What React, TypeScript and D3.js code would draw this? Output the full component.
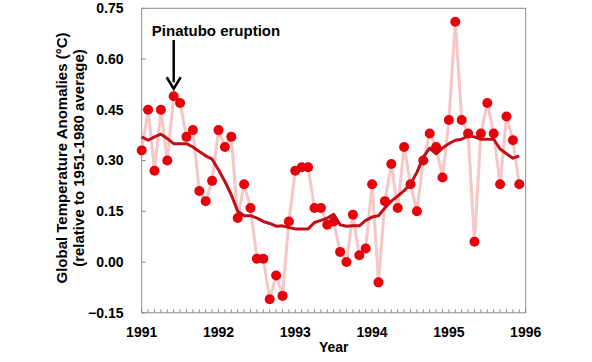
import React from "react";
import * as d3 from "d3";

const years = [1991, 1992, 1993, 1994, 1995, 1996];
const yTicks = [-0.15, 0, 0.15, 0.3, 0.45, 0.6, 0.75];

// Monthly anomalies Jan 1991 .. Dec 1995
const monthly = [
  0.33, 0.45, 0.27, 0.45, 0.30, 0.49, 0.47, 0.37, 0.39, 0.21, 0.18, 0.24,
  0.39, 0.34, 0.37, 0.13, 0.23, 0.16, 0.01, 0.01, -0.11, -0.04, -0.10, 0.12,
  0.27, 0.28, 0.28, 0.16, 0.16, 0.11, 0.12, 0.03, 0.00, 0.14, 0.02, 0.04,
  0.23, -0.06, 0.18, 0.29, 0.16, 0.34, 0.23, 0.15, 0.30, 0.38, 0.34, 0.25,
  0.42, 0.71, 0.42, 0.38, 0.06, 0.38, 0.47, 0.38, 0.23, 0.43, 0.36, 0.23,
];

// Smoothed (running mean) curve
const smooth = [
  0.37, 0.36, 0.37, 0.378, 0.365, 0.35, 0.35, 0.35, 0.34, 0.327, 0.314, 0.304,
  0.273, 0.238, 0.199, 0.15, 0.137, 0.137, 0.13, 0.12, 0.114, 0.106, 0.107, 0.102,
  0.098, 0.098, 0.098, 0.117, 0.123, 0.13, 0.141, 0.11, 0.106, 0.107, 0.107, 0.123,
  0.133, 0.137, 0.16, 0.18, 0.195, 0.211, 0.23, 0.265, 0.31, 0.337, 0.32, 0.337,
  0.35, 0.36, 0.363, 0.373, 0.37, 0.363, 0.363, 0.363, 0.334, 0.32, 0.307, 0.314,
];

const annotation = { label: "Pinatubo eruption", month: 5 };

const W = 592;
const H = 362;
const L = 141.7, R = 525.7, T = 8.3, B = 312.8;
const FONT = "'Liberation Sans', Arial, sans-serif";

export default function App() {
  const x = d3.scaleLinear().domain([1991, 1996]).range([L, R]);
  const y = d3.scaleLinear().domain([-0.15, 0.75]).range([B, T]);
  const tOf = (i: number) => 1991 + i / 12;

  const rawLine = d3
    .line<number>()
    .x((_, i) => x(tOf(i)))
    .y((d) => y(d));
  const smoothLine = d3
    .line<number>()
    .x((_, i) => x(tOf(i)))
    .y((d) => y(d));

  const months = d3.range(0, 61);
  const ax = x(tOf(annotation.month));
  const ay = y(monthly[annotation.month]);

  return (
    <svg
      width={W}
      height={H}
      style={{ position: "absolute", left: 0, top: 0, background: "#fff" }}
      fontFamily={FONT}
    >
      <rect x={0} y={0} width={W} height={H} fill="#fff" />
      {/* frame */}
      <rect x={L} y={T} width={R - L} height={B - T} fill="none" stroke="#8c8c8c" strokeWidth={1} />
      {/* monthly minor ticks */}
      {months.map((m) => (
        <line key={m} x1={x(tOf(m))} x2={x(tOf(m))} y1={B} y2={B - 3.5} stroke="#8c8c8c" strokeWidth={1} />
      ))}
      {/* y ticks */}
      {yTicks.map((v) => (
        <g key={v}>
          <line x1={L} x2={L + 4} y1={y(v)} y2={y(v)} stroke="#8c8c8c" strokeWidth={1} />
          <text
            x={123.5}
            y={y(v)}
            dy="0.35em"
            textAnchor="end"
            fontSize={14}
            fontWeight="bold"
            fill="#000"
          >
            {d3.format(".2f")(v)}
          </text>
        </g>
      ))}
      {/* x labels */}
      {years.map((yr) => (
        <text key={yr} x={x(yr)} y={337} textAnchor="middle" fontSize={14} fontWeight="bold" fill="#000">
          {yr}
        </text>
      ))}
      <text x={333.7} y={352} textAnchor="middle" fontSize={14} fontWeight="bold" fill="#000">
        Year
      </text>
      {/* y title */}
      <g transform={`translate(67,158) rotate(-90)`}>
        <text x={0} y={0} textAnchor="middle" fontSize={15} fontWeight="bold" fill="#000">
          Global Temperature Anomalies (°C)
        </text>
        <text x={0} y={17} textAnchor="middle" fontSize={15} fontWeight="bold" fill="#000">
          (relative to 1951-1980 average)
        </text>
      </g>
      {/* raw line */}
      <path d={rawLine(monthly) || ""} fill="none" stroke="#f7c6c6" strokeWidth={3} strokeLinejoin="round" />
      {/* points */}
      {monthly.map((v, i) => (
        <circle key={i} cx={x(tOf(i))} cy={y(v)} r={5} fill="#e8000b" />
      ))}
      {/* smoothed */}
      <path d={smoothLine(smooth) || ""} fill="none" stroke="#c00f16" strokeWidth={3} strokeLinejoin="round" />
      {/* annotation */}
      <text x={216} y={36} textAnchor="middle" fontSize={15} fontWeight="bold" fill="#000">
        {annotation.label}
      </text>
      <line x1={ax} x2={ax} y1={40} y2={ay - 14} stroke="#000" strokeWidth={2.5} />
      <path d={`M${ax - 7},${ay - 19} L${ax},${ay - 7.5} L${ax + 7},${ay - 19}`} fill="none" stroke="#000" strokeWidth={2.5} />
    </svg>
  );
}
